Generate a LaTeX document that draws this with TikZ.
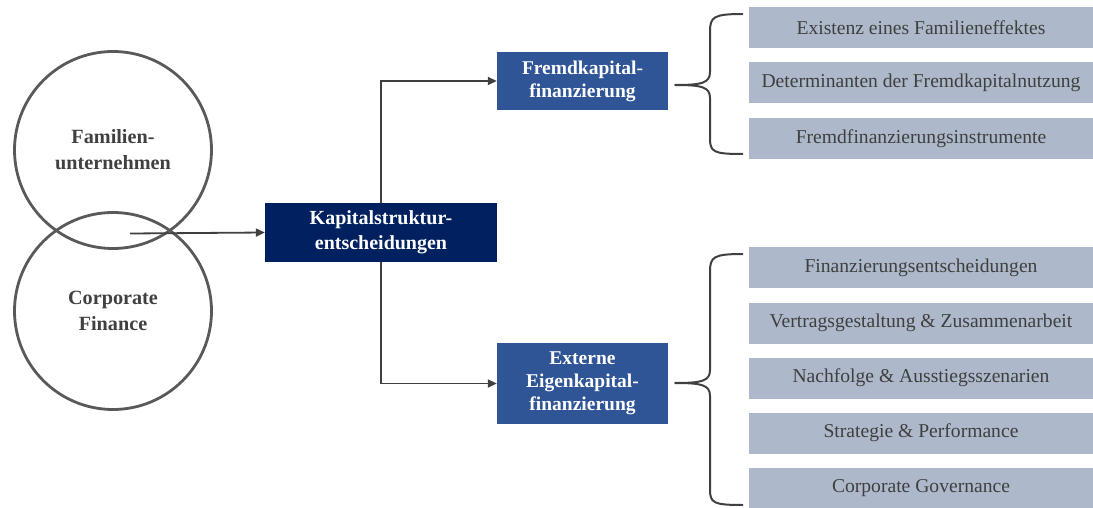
\documentclass[tikz,border=0pt]{standalone}
\usepackage{fontspec}
\setmainfont{Liberation Serif}
\usetikzlibrary{arrows.meta}
\definecolor{navy}{HTML}{002060}
\definecolor{midblue}{HTML}{2F5597}
\definecolor{itemgray}{HTML}{ADB9CA}
\definecolor{linegray}{HTML}{404040}
\definecolor{circgray}{HTML}{595959}
\definecolor{txtgray}{HTML}{3F3F3F}
\begin{document}
\begin{tikzpicture}[x=1pt,y=-1pt,
  circ/.style={circle,draw=circgray,line width=2.8pt,minimum size=197pt,inner sep=0pt,
    align=center,text=linegray,font=\fontsize{20.2}{26}\selectfont\bfseries},
  darkbox/.style={fill=navy,text=white,align=center,inner sep=0pt,
    font=\fontsize{20}{25}\selectfont\bfseries},
  bluebox/.style={fill=midblue,text=white,align=center,inner sep=0pt,
    font=\fontsize{19.5}{23}\selectfont\bfseries,minimum width=171pt},
  itembox/.style={fill=itemgray,text=txtgray,inner sep=0pt,minimum width=344pt,minimum height=41pt,
    font=\fontsize{19.6}{22}\selectfont},
  conn/.style={draw=linegray,line width=1.8pt},
  arr/.style={conn,-{Triangle[length=9pt,width=8pt]}},
  bracepath/.style={draw=linegray,line width=2pt,line join=round}]
\useasboundingbox (0,0) rectangle (1093,508);

% overlapping circles
\node[circ] (fam) at (113,150) {Familien-\\unternehmen};
\node[circ] (cf) at (113,311) {Corporate\\Finance};

% central decision box and the two branches
\node[darkbox,minimum width=232pt,minimum height=59pt] (kap) at (381,232.5) {Kapitalstruktur-\\entscheidungen};
\node[bluebox,minimum height=58pt] (fremd) at (582.5,81) {Fremdkapital-\\finanzierung};
\node[bluebox,minimum height=81pt] (ext) at (582.5,383.5) {Externe\\Eigenkapital-\\finanzierung};

\coordinate (src) at (130,233.5);
\draw[arr] (src) -- (kap.west);
\draw[arr] (kap.north) |- (fremd.west);
\draw[arr] (kap.south) |- (ext.west);

% items of the debt branch
\node[itembox] (f1) at (921,27.5) {Existenz eines Familieneffektes};
\node[itembox] (f2) at (921,82.5) {Determinanten der Fremdkapitalnutzung};
\node[itembox] (f3) at (921,138.5) {Fremdfinanzierungsinstrumente};

% items of the equity branch
\node[itembox] (e1) at (921,267.5) {Finanzierungsentscheidungen};
\node[itembox] (e2) at (921,323) {Vertragsgestaltung \& Zusammenarbeit};
\node[itembox] (e3) at (921,378) {Nachfolge \& Ausstiegsszenarien};
\node[itembox] (e4) at (921,433) {Strategie \& Performance};
\node[itembox,minimum height=40pt] (e5) at (921,488) {Corporate Governance};

% curly braces
\coordinate (bt1) at (743,14);
\coordinate (bm1) at (675,85);
\coordinate (bb1) at (743,154);
\draw[bracepath] (bt1) .. controls (713,14) and (710,17) .. (710,32)
  -- (710,72) .. controls (710,83) and (702,85) .. (bm1)
  .. controls (702,85) and (710,87) .. (710,98)
  -- (710,138) .. controls (710,152) and (713,154) .. (bb1);

\coordinate (bt2) at (743,254);
\coordinate (bm2) at (675,383);
\coordinate (bb2) at (743,505);
\draw[bracepath] (bt2) .. controls (713,254) and (710,257) .. (710,272)
  -- (710,370) .. controls (710,381) and (702,383) .. (bm2)
  .. controls (702,383) and (710,385) .. (710,396)
  -- (710,489) .. controls (710,503) and (713,505) .. (bb2);
\end{tikzpicture}
\end{document}
